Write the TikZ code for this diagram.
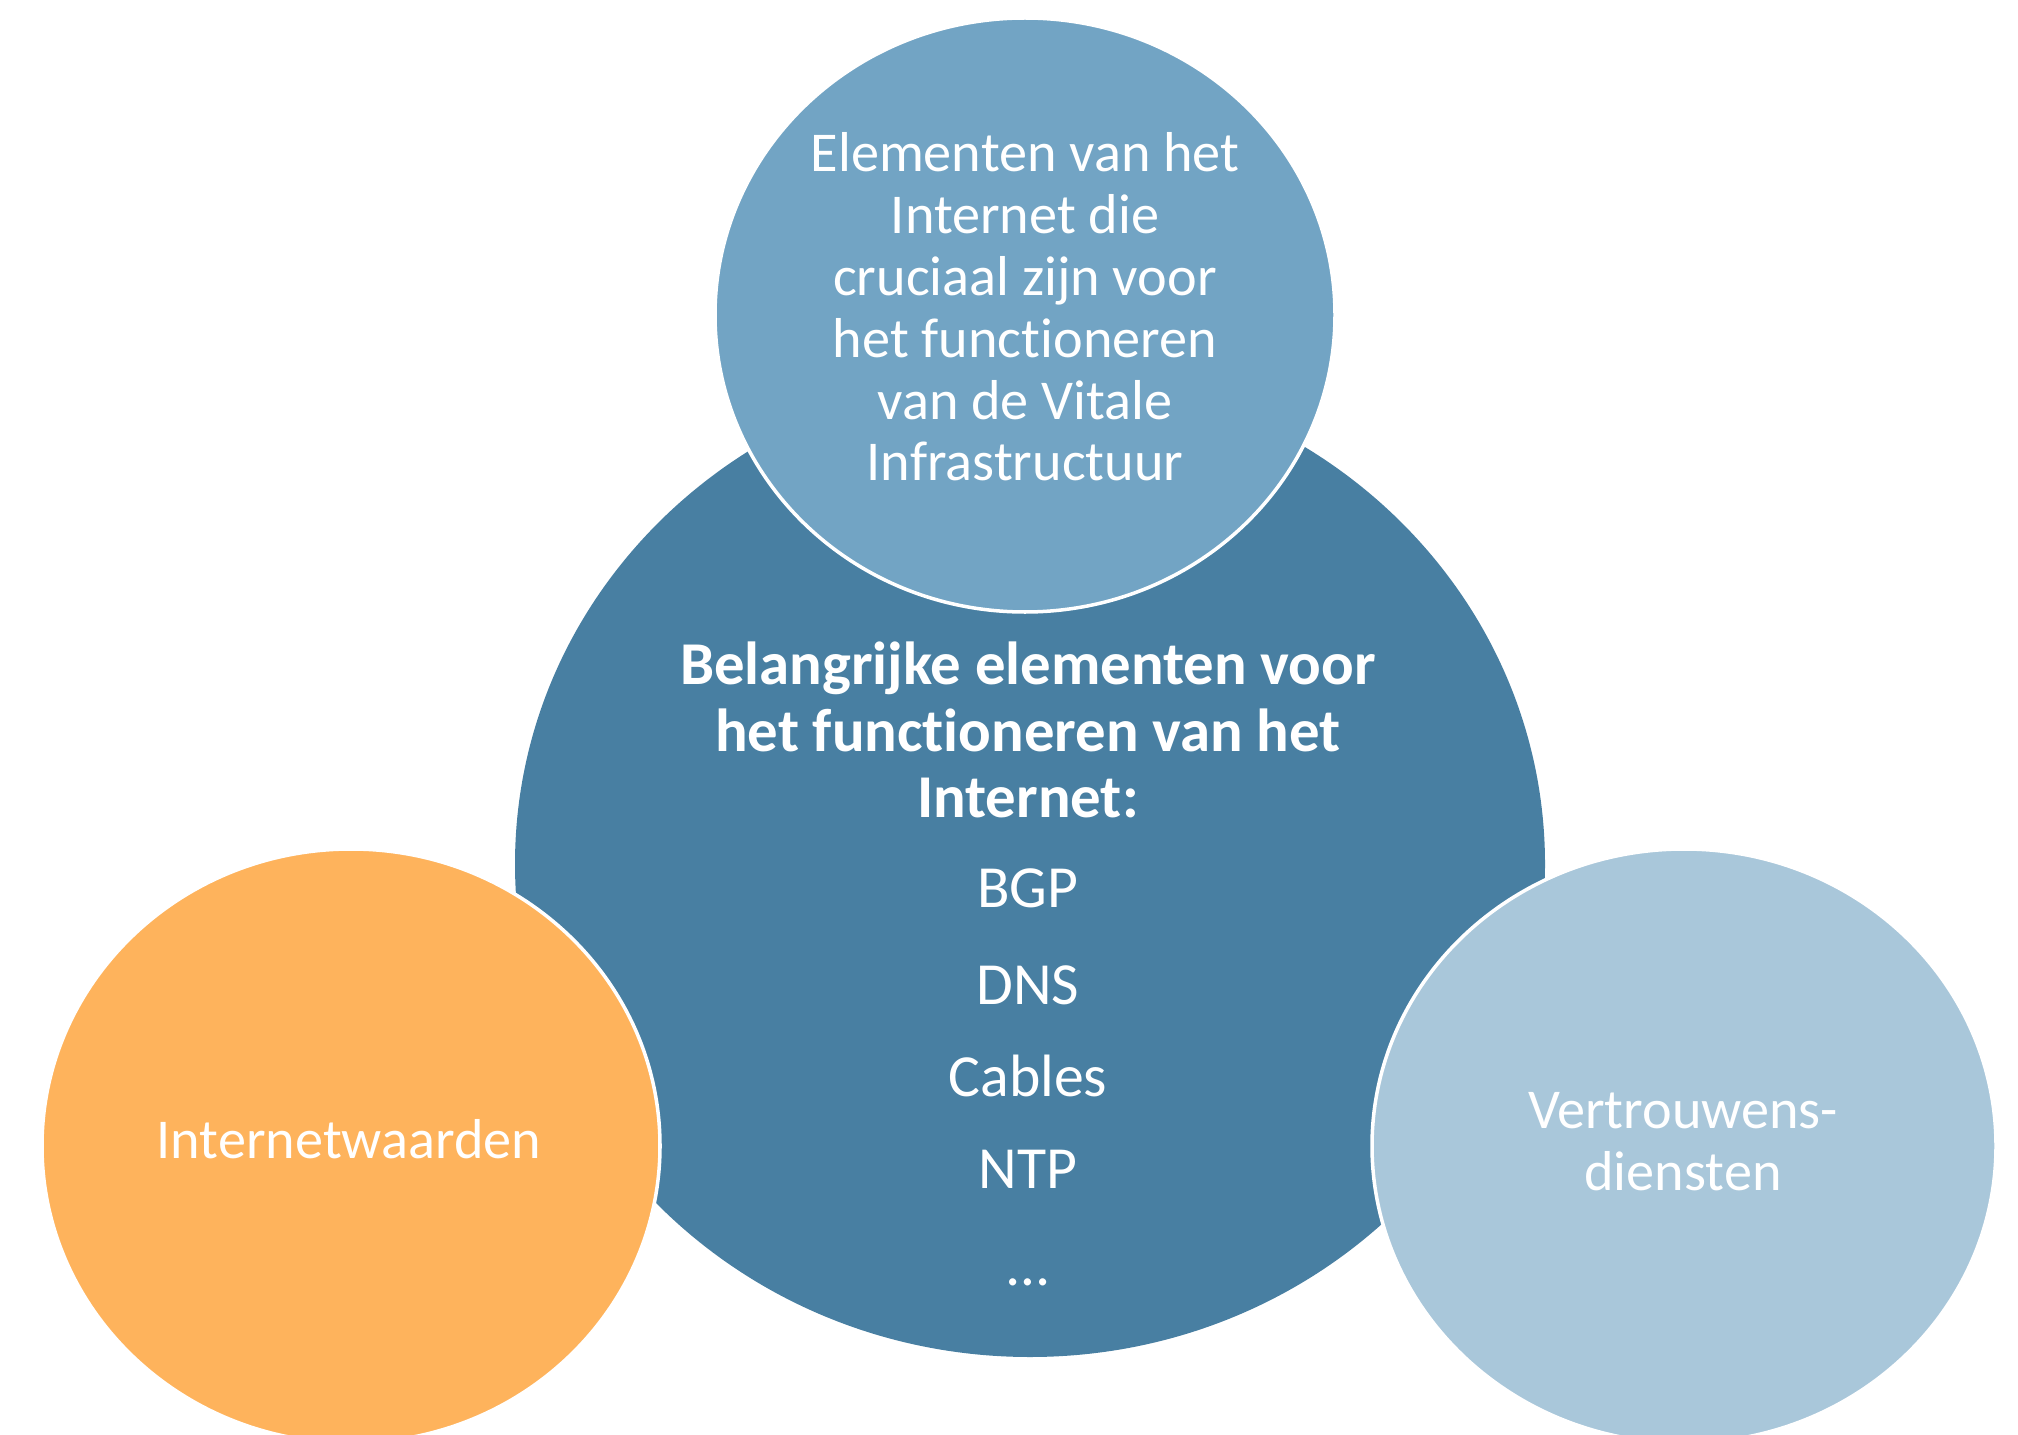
\documentclass[tikz,border=0pt]{standalone}
\usepackage{fontspec}
\setmainfont[Ligatures={NoCommon}]{Carlito}
\usepackage{tikz}
\definecolor{kernblauw}{RGB}{72,127,162}
\definecolor{middenblauw}{RGB}{114,164,196}
\definecolor{lichtblauw}{RGB}{169,199,218}
\definecolor{oranje}{RGB}{254,179,92}
\tikzset{
	tekst/.style={text=white, align=center, font=\fontsize{16}{17.6}\selectfont},
	kop/.style={text=white, align=center, font=\fontsize{17.3}{19}\selectfont\bfseries},
	item/.style={text=white, font=\fontsize{17}{19}\selectfont},
	bol/.style={draw=white, line width=1pt}
}

\begin{document}
\begin{tikzpicture}
			%%%%% START %%%%%
			\useasboundingbox (0, 0) rectangle (20.18, 14.34);
			\clip (0, 0) rectangle (20.18, 14.34);
			
			% grote bol in het midden
			\draw[fill=kernblauw, draw=none] (10.3, 5.7) ellipse (5.15 and 4.93);
			
			% drie kleine bollen eromheen
			\draw[bol, fill=middenblauw] (10.25, 11.19) ellipse (3.1 and 2.97);
			\draw[bol, fill=oranje] (3.51, 2.88) ellipse (3.09 and 2.97);
			\draw[bol, fill=lichtblauw] (16.84, 2.88) ellipse (3.12 and 2.97);
			
			\node[tekst] (vitaal) at (10.25, 11.27) {Elementen van het\\Internet die\\cruciaal zijn voor\\het functioneren\\van de Vitale\\Infrastructuur};
			\node[tekst] (waarden) at (3.49, 2.95) {Internetwaarden};
			\node[tekst] (vertrouwen) at (16.83, 2.92) {Vertrouwens-\\diensten};
			
			\node[kop] (kern) at (10.28, 7.04) {Belangrijke elementen voor\\het functioneren van het\\Internet:};
			\node[item] (bgp) at (10.28, 5.46) {BGP};
			\node[item] (dns) at (10.28, 4.49) {DNS};
			\node[item] (cables) at (10.28, 3.58) {Cables};
			\node[item] (ntp) at (10.28, 2.65) {NTP};
			\node[item] (meer) at (10.28, 1.52) {…};
			%%%%% END %%%%%
\end{tikzpicture}
\end{document}
